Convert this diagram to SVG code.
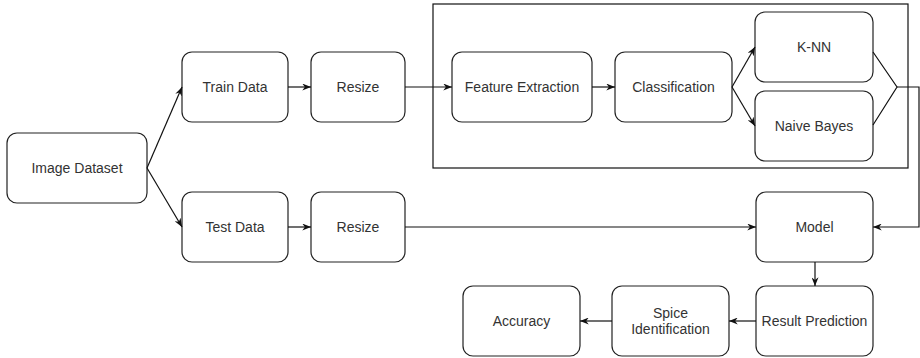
<svg xmlns="http://www.w3.org/2000/svg" width="920" height="358" viewBox="0 0 920 358">
<defs>
<style>
.box{fill:#fff;stroke:#222;stroke-width:1.2}
.cont{fill:none;stroke:#111;stroke-width:1.2}
.lbl{font-family:"Liberation Sans",Arial,sans-serif;font-size:14px;fill:#333;text-anchor:middle}
.edge{fill:none;stroke:#111;stroke-width:1.2}
</style>
<marker id="arr" viewBox="0 0 10 8" markerWidth="9" markerHeight="7" refX="10" refY="4" orient="auto" markerUnits="userSpaceOnUse">
<path d="M0,0 L10,4 L0,8 L3,4 z" fill="#111"/>
</marker>
</defs>
<rect width="920" height="358" fill="#fff"/>
<g id="container"><rect class="cont" x="433" y="4" width="475" height="164"/></g>
<g id="image-dataset"><rect class="box" x="7" y="133" width="140" height="70" rx="10"/><text class="lbl" x="77" y="173">Image Dataset</text></g>
<g id="train-data"><rect class="box" x="182" y="52" width="106" height="70" rx="10"/><text class="lbl" x="235" y="92">Train Data</text></g>
<g id="resize-train"><rect class="box" x="311" y="52" width="94" height="70" rx="10"/><text class="lbl" x="358" y="92">Resize</text></g>
<g id="test-data"><rect class="box" x="182" y="192" width="106" height="70" rx="10"/><text class="lbl" x="235" y="232">Test Data</text></g>
<g id="resize-test"><rect class="box" x="311" y="192" width="94" height="70" rx="10"/><text class="lbl" x="358" y="232">Resize</text></g>
<g id="feature-extraction"><rect class="box" x="452" y="52" width="140" height="70" rx="10"/><text class="lbl" x="522" y="92">Feature Extraction</text></g>
<g id="classification"><rect class="box" x="615" y="52" width="117" height="70" rx="10"/><text class="lbl" x="673.5" y="92">Classification</text></g>
<g id="knn"><rect class="box" x="755" y="12" width="118" height="70" rx="10"/><text class="lbl" x="814" y="52">K-NN</text></g>
<g id="naive-bayes"><rect class="box" x="755" y="91" width="118" height="70" rx="10"/><text class="lbl" x="814" y="131">Naive Bayes</text></g>
<g id="model"><rect class="box" x="756" y="192" width="117" height="70" rx="10"/><text class="lbl" x="814.5" y="232">Model</text></g>
<g id="result-prediction"><rect class="box" x="756" y="286" width="117" height="70" rx="10"/><text class="lbl" x="814.5" y="326">Result Prediction</text></g>
<g id="spice-identification"><rect class="box" x="612" y="286" width="117" height="70" rx="10"/><text class="lbl" x="670.5" y="318">Spice</text><text class="lbl" x="670.5" y="334">Identification</text></g>
<g id="accuracy"><rect class="box" x="463" y="286" width="117" height="70" rx="10"/><text class="lbl" x="521.5" y="326">Accuracy</text></g>
<g id="connectors">
<path class="edge" d="M147,168 L182,87" marker-end="url(#arr)"/>
<path class="edge" d="M147,168 L182,227" marker-end="url(#arr)"/>
<path class="edge" d="M288,87 L311,87" marker-end="url(#arr)"/>
<path class="edge" d="M288,227 L311,227" marker-end="url(#arr)"/>
<path class="edge" d="M405,87 L452,87" marker-end="url(#arr)"/>
<path class="edge" d="M405,227 L756,227" marker-end="url(#arr)"/>
<path class="edge" d="M592,87 L615,87" marker-end="url(#arr)"/>
<path class="edge" d="M732,87 L755,47" marker-end="url(#arr)"/>
<path class="edge" d="M732,87 L755,126" marker-end="url(#arr)"/>
<path class="edge" d="M873,52 L897,87 L873,125"/>
<path class="edge" d="M897,87 L919,87 L919,227 L873,227" marker-end="url(#arr)"/>
<path class="edge" d="M815,262 L815,286" marker-end="url(#arr)"/>
<path class="edge" d="M756,321 L729,321" marker-end="url(#arr)"/>
<path class="edge" d="M612,321 L580,321" marker-end="url(#arr)"/>
</g>
</svg>
